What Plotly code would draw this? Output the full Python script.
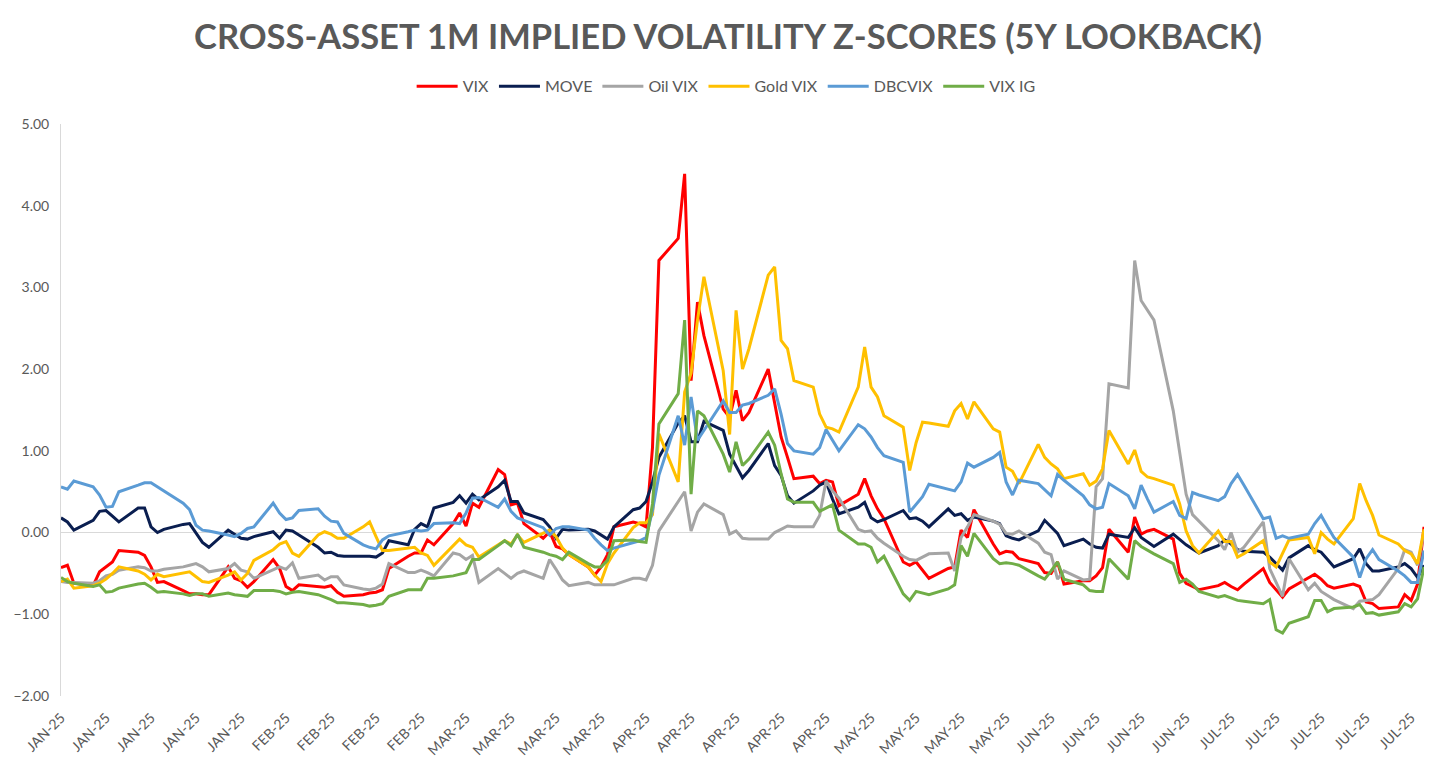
import pandas as pd
import plotly.graph_objects as go

# weekdays, 1 Jan - 1 Aug 2025
dates = pd.bdate_range("2025-01-01", "2025-08-01")

# z-scores, one row per week (first row = 1-3 Jan)
vix = [
    -0.43, -0.40, -0.62,
    -0.65, -0.48, -0.42, -0.36, -0.22,
    -0.24, -0.28, -0.42, -0.61, -0.60,
    -0.71, -0.75, -0.75, -0.76, -0.76,
    -0.42, -0.56, -0.59, -0.67, -0.60,
    -0.33, -0.44, -0.66, -0.71, -0.64,
    -0.66, -0.67, -0.65, -0.73, -0.78,
    -0.76, -0.74, -0.73, -0.70, -0.44,
    -0.29, -0.25, -0.25, -0.09, -0.15,
    0.11, 0.24, 0.08, 0.36, 0.31,
    0.77, 0.71, 0.34, 0.36, 0.11,
    -0.07, 0.01, -0.17, -0.20, -0.27,
    -0.42, -0.52, -0.42, -0.27, 0.07,
    0.13, 0.11, 0.07, 1.04, 3.33,
    3.60, 4.39, 1.86, 2.82, 2.41,
    1.51, 1.41, 1.74, 1.37, 1.47,
    2.00, 1.58, 1.17, 0.92, 0.66,
    0.69, 0.60, 0.64, 0.62, 0.33,
    0.47, 0.66, 0.45, 0.29, 0.17,
    -0.36, -0.40, -0.36, -0.46, -0.56,
    -0.44, -0.42, 0.03, -0.06, 0.28,
    -0.14, -0.26, -0.23, -0.24, -0.32,
    -0.38, -0.49, -0.50, -0.36, -0.63,
    -0.59, -0.59, -0.53, -0.43, 0.04,
    -0.24, 0.19, -0.02, 0.02, 0.04,
    -0.08, -0.50, -0.62, -0.66, -0.70,
    -0.65, -0.61, -0.66, -0.70, -0.63,
    -0.44, -0.61, -0.70, -0.79, -0.69,
    -0.55, -0.51, -0.57, -0.65, -0.68,
    -0.63, -0.66, -0.85, -0.87, -0.93,
    -0.91, -0.76, -0.83, -0.63, 0.07,
]

move = [
    0.18, 0.13, 0.03,
    0.15, 0.26, 0.27, 0.20, 0.13,
    0.30, 0.30, 0.07, 0.00, 0.04,
    0.10, 0.11, -0.01, -0.12, -0.18,
    0.03, -0.02, -0.07, -0.08, -0.05,
    0.01, -0.07, 0.03, 0.02, -0.03,
    -0.18, -0.25, -0.24, -0.28, -0.29,
    -0.29, -0.29, -0.30, -0.25, -0.10,
    -0.15, 0.04, 0.11, 0.07, 0.30,
    0.37, 0.45, 0.36, 0.47, 0.40,
    0.56, 0.64, 0.38, 0.38, 0.24,
    0.16, 0.07, -0.07, 0.04, 0.03,
    0.04, 0.02, -0.03, -0.08, 0.07,
    0.28, 0.30, 0.38, 0.62, 0.92,
    1.34, 1.43, 1.11, 1.11, 1.36,
    1.25, 0.96, 0.81, 0.67, 0.76,
    1.09, 0.82, 0.70, 0.45, 0.36,
    0.51, 0.58, 0.62, 0.41, 0.23,
    0.31, 0.37, 0.18, 0.13, 0.16,
    0.27, 0.17, 0.18, 0.14, 0.07,
    0.29, 0.21, 0.23, 0.15, 0.19,
    0.14, 0.11, -0.04, -0.07, -0.09,
    0.02, 0.15, 0.07, -0.01, -0.16,
    -0.08, -0.14, -0.18, -0.19, -0.02,
    -0.06, 0.06, -0.06, -0.12, -0.17,
    -0.02, -0.09, -0.15, -0.20, -0.25,
    -0.16, -0.09, -0.14, -0.21, -0.23,
    -0.24, -0.30, -0.38, -0.46, -0.31,
    -0.16, -0.21, -0.24, -0.33, -0.42,
    -0.32, -0.20, -0.38, -0.47, -0.47,
    -0.42, -0.38, -0.44, -0.55, -0.40,
]

oil_vix = [
    -0.60, -0.61, -0.61,
    -0.62, -0.59, -0.53, -0.51, -0.46,
    -0.42, -0.43, -0.47, -0.47, -0.45,
    -0.42, -0.40, -0.38, -0.42, -0.48,
    -0.44, -0.38, -0.46, -0.48, -0.56,
    -0.45, -0.42, -0.45, -0.37, -0.56,
    -0.52, -0.58, -0.54, -0.54, -0.64,
    -0.69, -0.70, -0.68, -0.63, -0.38,
    -0.49, -0.49, -0.46, -0.49, -0.53,
    -0.25, -0.27, -0.33, -0.28, -0.61,
    -0.44, -0.50, -0.56, -0.50, -0.47,
    -0.56, -0.33, -0.45, -0.58, -0.65,
    -0.61, -0.64, -0.64, -0.64, -0.64,
    -0.56, -0.56, -0.58, -0.40, 0.02,
    0.37, 0.50, 0.02, 0.25, 0.35,
    0.22, -0.02, 0.02, -0.07, -0.08,
    -0.08, 0.00, 0.04, 0.08, 0.07,
    0.07, 0.21, 0.63, 0.51, 0.42,
    0.04, 0.01, 0.02, -0.07, -0.13,
    -0.29, -0.33, -0.34, -0.30, -0.26,
    -0.25, -0.47, -0.06, 0.07, 0.22,
    0.14, 0.10, -0.01, -0.02, 0.02,
    -0.13, -0.24, -0.27, -0.57, -0.47,
    -0.58, -0.57, 0.56, 0.66, 1.82,
    1.77, 3.33, 2.84, 2.72, 2.60,
    1.49, 1.00, 0.47, 0.22, 0.14,
    -0.10, -0.21, 0.00, -0.24, -0.18,
    0.13, -0.44, -0.61, -0.78, -0.32,
    -0.70, -0.62, -0.72, -0.77, -0.82,
    -0.93, -0.84, -0.83, -0.82, -0.76,
    -0.44, -0.21, -0.24, -0.40, 0.00,
]

gold_vix = [
    -0.60, -0.57, -0.68,
    -0.65, -0.62, -0.57, -0.50, -0.42,
    -0.47, -0.51, -0.58, -0.51, -0.54,
    -0.50, -0.48, -0.54, -0.60, -0.61,
    -0.52, -0.48, -0.58, -0.50, -0.34,
    -0.21, -0.14, -0.11, -0.25, -0.29,
    -0.03, 0.01, -0.02, -0.07, -0.07,
    0.07, 0.13, -0.05, -0.22, -0.22,
    -0.19, -0.18, -0.25, -0.28, -0.40,
    -0.16, -0.08, -0.15, -0.18, -0.30,
    -0.15, -0.10, -0.14, -0.03, -0.12,
    -0.01, 0.03, -0.05, -0.19, -0.27,
    -0.42, -0.52, -0.60, -0.38, -0.25,
    0.06, 0.12, 0.12, 0.22, 1.21,
    0.62, 1.72, 1.95, 2.60, 3.13,
    1.98, 1.20, 2.72, 2.00, 2.25,
    3.15, 3.25, 2.35, 2.25, 1.86,
    1.78, 1.45, 1.29, 1.27, 1.23,
    1.78, 2.27, 1.78, 1.66, 1.43,
    1.29, 0.76, 1.10, 1.35, 1.34,
    1.30, 1.49, 1.58, 1.39, 1.60,
    1.27, 1.23, 0.80, 0.75, 0.60,
    1.08, 0.92, 0.84, 0.78, 0.66,
    0.72, 0.58, 0.63, 0.78, 1.25,
    0.84, 1.01, 0.75, 0.68, 0.66,
    0.58, 0.35, 0.02, -0.16, -0.25,
    0.02, -0.11, -0.11, -0.30, -0.26,
    -0.10, -0.36, -0.42, -0.26, -0.09,
    -0.06, -0.26, 0.00, -0.08, -0.14,
    0.17, 0.60, 0.39, 0.21, -0.03,
    -0.14, -0.22, -0.26, -0.38, 0.04,
]

dbcvix = [
    0.56, 0.53, 0.63,
    0.56, 0.46, 0.31, 0.32, 0.50,
    0.58, 0.61, 0.61, 0.56, 0.52,
    0.36, 0.28, 0.09, 0.03, 0.02,
    -0.03, -0.05, -0.01, 0.05, 0.07,
    0.36, 0.24, 0.16, 0.18, 0.27,
    0.29, 0.20, 0.14, 0.13, -0.01,
    -0.15, -0.18, -0.20, -0.09, -0.04,
    0.01, 0.03, 0.02, 0.03, 0.11,
    0.12, 0.11, 0.24, 0.42, 0.43,
    0.31, 0.41, 0.26, 0.18, 0.15,
    0.06, -0.03, 0.05, 0.07, 0.07,
    0.03, -0.07, -0.15, -0.22, -0.19,
    -0.12, -0.10, -0.06, 0.27, 0.70,
    1.43, 1.07, 1.66, 1.13, 1.25,
    1.61, 1.47, 1.47, 1.56, 1.58,
    1.68, 1.76, 1.45, 1.09, 1.00,
    0.96, 1.04, 1.26, 1.13, 1.00,
    1.32, 1.27, 1.17, 1.04, 0.94,
    0.86, 0.25, 0.35, 0.44, 0.59,
    0.53, 0.51, 0.62, 0.85, 0.80,
    0.92, 0.98, 0.62, 0.46, 0.64,
    0.60, 0.52, 0.45, 0.71, 0.64,
    0.45, 0.34, 0.29, 0.31, 0.60,
    0.45, 0.29, 0.58, 0.41, 0.25,
    0.38, 0.21, 0.17, 0.49, 0.46,
    0.39, 0.44, 0.60, 0.71, 0.58,
    0.17, 0.19, -0.07, -0.04, -0.07,
    -0.02, 0.11, 0.21, 0.07, -0.06,
    -0.30, -0.55, -0.32, -0.21, -0.33,
    -0.47, -0.53, -0.61, -0.61, -0.22,
]

vix_ig = [
    -0.55, -0.60, -0.62,
    -0.66, -0.64, -0.73, -0.72, -0.68,
    -0.63, -0.62, -0.67, -0.73, -0.72,
    -0.75, -0.77, -0.75, -0.75, -0.78,
    -0.74, -0.76, -0.77, -0.78, -0.71,
    -0.71, -0.72, -0.75, -0.73, -0.72,
    -0.76, -0.79, -0.82, -0.86, -0.86,
    -0.88, -0.90, -0.89, -0.87, -0.78,
    -0.70, -0.70, -0.70, -0.56, -0.56,
    -0.53, -0.51, -0.49, -0.33, -0.33,
    -0.16, -0.10, -0.16, -0.02, -0.18,
    -0.24, -0.27, -0.29, -0.33, -0.24,
    -0.38, -0.42, -0.42, -0.34, -0.10,
    -0.09, -0.11, -0.12, 0.35, 1.33,
    1.70, 2.60, 0.47, 1.49, 1.43,
    0.96, 0.74, 1.11, 0.82, 0.90,
    1.23, 1.07, 0.72, 0.41, 0.37,
    0.37, 0.26, 0.30, 0.34, 0.03,
    -0.14, -0.14, -0.18, -0.36, -0.29,
    -0.75, -0.83, -0.72, -0.74, -0.76,
    -0.69, -0.64, -0.16, -0.29, -0.01,
    -0.32, -0.38, -0.37, -0.38, -0.40,
    -0.53, -0.57, -0.47, -0.36, -0.57,
    -0.64, -0.71, -0.72, -0.72, -0.32,
    -0.57, -0.10, -0.17, -0.22, -0.26,
    -0.38, -0.61, -0.57, -0.63, -0.72,
    -0.79, -0.77, -0.80, -0.83, -0.84,
    -0.87, -0.82, -1.19, -1.23, -1.11,
    -1.03, -0.83, -0.83, -0.97, -0.93,
    -0.91, -0.88, -0.99, -0.98, -1.01,
    -0.97, -0.87, -0.91, -0.81, -0.42,
]

# weekly axis labels
tick_dates = pd.date_range("2025-01-01", "2025-07-30", freq="7D")
tick_labels = [d.strftime("%b-%y").upper() for d in tick_dates]

series = [
    ("VIX", vix, "#FF0000"),
    ("MOVE", move, "#0A1E50"),
    ("Oil VIX", oil_vix, "#A5A5A5"),
    ("Gold VIX", gold_vix, "#FFC000"),
    ("DBCVIX", dbcvix, "#5B9BD5"),
    ("VIX IG", vix_ig, "#70AD47"),
]

fig = go.Figure()
for name, vals, color in series:
    fig.add_trace(go.Scatter(x=dates, y=vals, name=name, mode="lines",
                             line=dict(color=color, width=3)))

grey = "#595959"
# page body adds 8px at top/left, margins are trimmed for it
fig.update_layout(
    width=1456, height=772,
    margin=dict(l=53, r=40, t=116, b=84),
    paper_bgcolor="white", plot_bgcolor="white",
    font=dict(family="Lato", color=grey),
    title=dict(text="<b>CROSS-ASSET 1M IMPLIED VOLATILITY Z-SCORES (5Y LOOKBACK)</b>",
               x=0.4945, xanchor="center", y=0.962, yanchor="middle",
               font=dict(size=34.5, color=grey, family="Lato")),
    legend=dict(orientation="h", x=0.488, xanchor="center", y=1.066, yanchor="middle",
                font=dict(size=16, color=grey), itemwidth=41),
    showlegend=True,
)
fig.update_xaxes(type="date", range=[dates[0], dates[-1]], automargin=False,
                 tickvals=tick_dates, ticktext=tick_labels, tickangle=-45,
                 tickfont=dict(size=14, color=grey), ticklabelstandoff=10,
                 showgrid=False, showline=False, zeroline=False, ticks="")
fig.update_yaxes(range=[-2, 5], dtick=1, tickformat=".2f", automargin=False,
                 tickfont=dict(size=14, color=grey), ticklabelstandoff=8,
                 showgrid=False, zeroline=True, zerolinecolor="#D9D9D9", zerolinewidth=1,
                 showline=True, linecolor="#D9D9D9", linewidth=1, ticks="")

fig.write_html("out.html")
